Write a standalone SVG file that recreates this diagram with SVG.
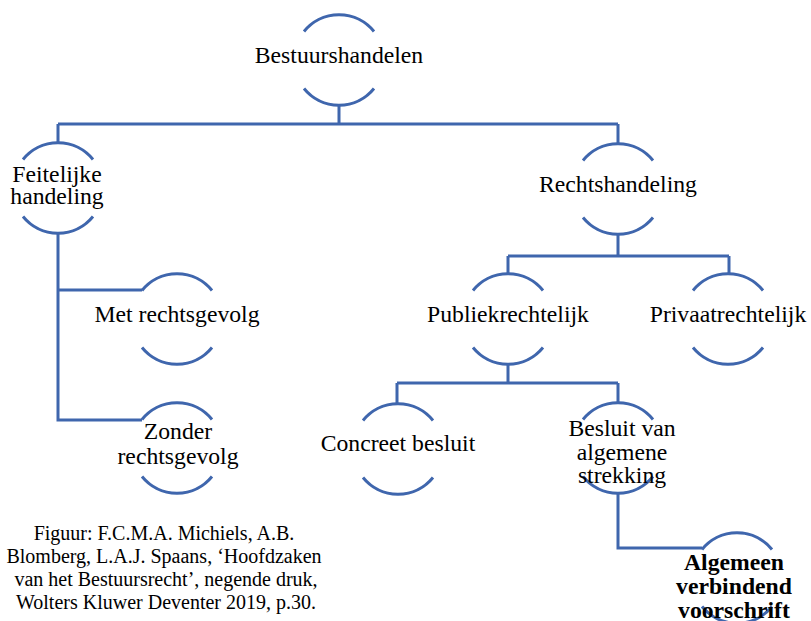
<svg xmlns="http://www.w3.org/2000/svg" width="811" height="621" viewBox="0 0 811 621">
<style>
.ln{fill:none;stroke:#3F66AD;stroke-width:3}
.t{font-family:"Liberation Serif","Times New Roman",serif;font-size:23.7px;fill:#000;text-anchor:middle}
.b{font-weight:bold}
.cap{font-family:"Liberation Serif","Times New Roman",serif;font-size:20px;fill:#000;text-anchor:middle}
</style>
<defs>
<path id="ring" class="ln" d="M-35,-28.5 A45,45 0 0 1 35,-28.5 M-35,28.5 A45,45 0 0 0 35,28.5"/>
</defs>
<rect width="811" height="621" fill="#fff"/>
<g id="connectors" class="ln">
<path d="M339,105 V124 M58,124 H618 M58,124 V143 M618,124 V144"/>
<path d="M58,233 V420 H142 M58,290 H142"/>
<path d="M618,234 V256 M508,256 H729 M508,256 V274 M729,256 V274"/>
<path d="M508,364 V383 M397,383 H618 M397,383 V404 M618,383 V403"/>
<path d="M618,493 V548 H702"/>
</g>
<g id="bestuurshandelen"><use href="#ring" x="339" y="60"/><text class="t" x="339" y="63">Bestuurshandelen</text></g>
<g id="feitelijke"><use href="#ring" x="58" y="188"/><text class="t" x="57" y="182">Feitelijke</text><text class="t" x="57" y="204">handeling</text></g>
<g id="rechtshandeling"><use href="#ring" x="618" y="189"/><text class="t" x="618" y="192">Rechtshandeling</text></g>
<g id="met"><use href="#ring" x="177" y="319"/><text class="t" x="177" y="322">Met rechtsgevolg</text></g>
<g id="zonder"><use href="#ring" x="177" y="448"/><text class="t" x="178" y="439">Zonder</text><text class="t" x="178" y="464">rechtsgevolg</text></g>
<g id="publiek"><use href="#ring" x="508" y="319"/><text class="t" x="508" y="322">Publiekrechtelijk</text></g>
<g id="privaat"><use href="#ring" x="728" y="319"/><text class="t" x="728" y="322">Privaatrechtelijk</text></g>
<g id="concreet"><use href="#ring" x="398" y="449"/><text class="t" x="398" y="451">Concreet besluit</text></g>
<g id="besluit"><use href="#ring" x="618" y="448"/><text class="t" x="622" y="436">Besluit van</text><text class="t" x="622" y="460">algemene</text><text class="t" x="622" y="483">strekking</text></g>
<g id="algemeen"><use href="#ring" x="737" y="578"/><text class="t b" x="734" y="570">Algemeen</text><text class="t b" x="734" y="594">verbindend</text><text class="t b" x="734" y="618">voorschrift</text></g>
<g id="caption">
<text class="cap" x="164" y="540">Figuur: F.C.M.A. Michiels, A.B.</text>
<text class="cap" x="164" y="563">Blomberg, L.A.J. Spaans, ‘Hoofdzaken</text>
<text class="cap" x="166" y="586">van het Bestuursrecht’, negende druk,</text>
<text class="cap" x="166" y="609">Wolters Kluwer Deventer 2019, p.30.</text>
</g>
</svg>
